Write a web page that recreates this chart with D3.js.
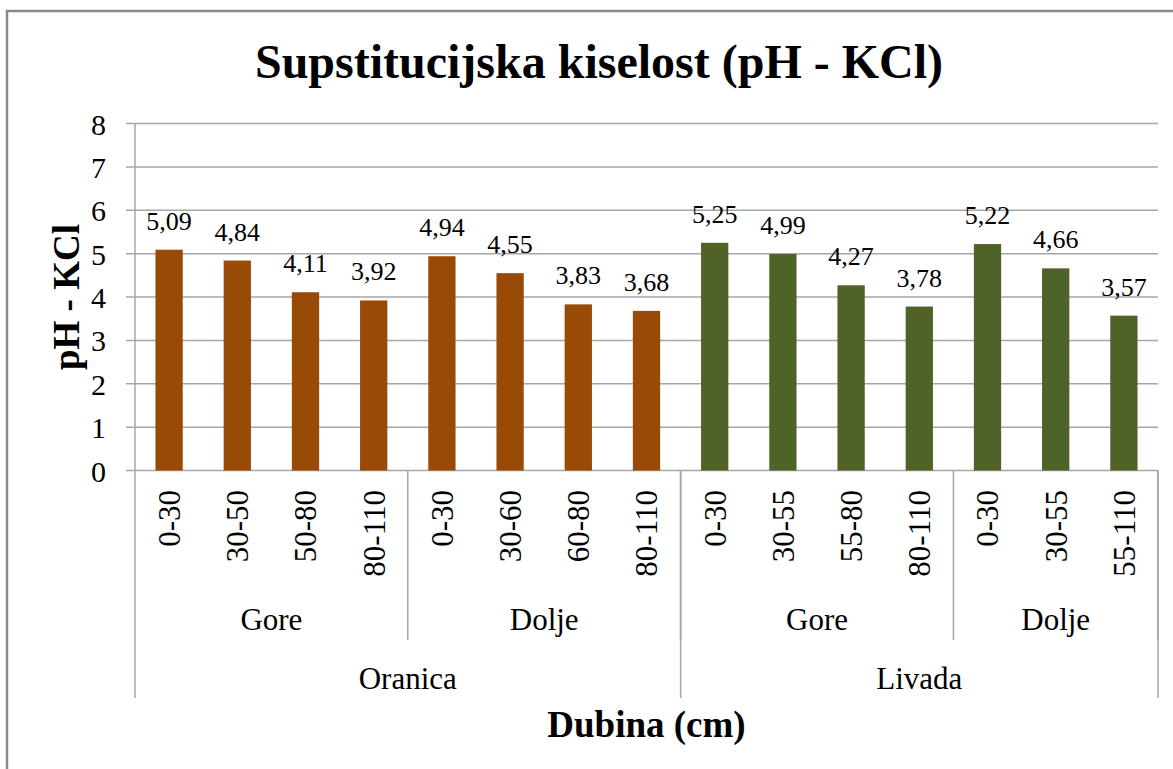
<!DOCTYPE html>
<html><head><meta charset="utf-8">
<script src="https://cdn.jsdelivr.net/npm/d3@7"></script>
</head>
<body style="margin:0;background:#fff"><svg id="c" width="1173" height="769" font-family="Liberation Serif"></svg>
<script>
const depths = ["0-30","30-50","50-80","80-110","0-30","30-60","60-80","80-110","0-30","30-55","55-80","80-110","0-30","30-55","55-110"];
const position = ["Gore","Gore","Gore","Gore","Dolje","Dolje","Dolje","Dolje","Gore","Gore","Gore","Gore","Dolje","Dolje","Dolje"];
const landUse = ["Oranica","Oranica","Oranica","Oranica","Oranica","Oranica","Oranica","Oranica","Livada","Livada","Livada","Livada","Livada","Livada","Livada"];
const values = [5.09,4.84,4.11,3.92,4.94,4.55,3.83,3.68,5.25,4.99,4.27,3.78,5.22,4.66,3.57];
const yTicks = [0,1,2,3,4,5,6,7,8];
const colors = {"Oranica":"#994A06","Livada":"#4F6228"};

const FONT = '"Liberation Serif"';
const svg = d3.select("#c");
const L = 135, R = 1158, T = 123.5, B = 470.5;
const idx = d3.range(values.length);
const x = d3.scaleBand().domain(idx).range([L,R]).paddingInner(0.6).paddingOuter(0.3);
const y = d3.scaleLinear().domain([0,8]).range([B,T]);
const step = x.step();
const GRID = "#a6a6a6";

function txt(sel, size, weight){
  return sel.attr("font-family","Liberation Serif").style("font-family",FONT)
    .attr("font-size",size).style("font-size",size+"px")
    .style("font-weight",weight||"normal").attr("fill","#000");
}

// outer border
svg.append("rect").attr("x",7).attr("y",11).attr("width",1200).attr("height",800)
  .attr("fill","none").attr("stroke","#8a8a8a").attr("stroke-width",2.5);

// gridlines
svg.append("g").selectAll("line").data(yTicks).join("line")
  .attr("x1",L-9).attr("x2",R).attr("y1",d=>y(d)).attr("y2",d=>y(d))
  .attr("stroke",GRID).attr("stroke-width",1.5);

// y axis
const yAxis = d3.axisLeft(y).tickValues(yTicks).tickSize(0).tickPadding(0);
const gy = svg.append("g").attr("transform",`translate(${L},0)`).call(yAxis);
gy.attr("font-family","Liberation Serif");
gy.select(".domain").remove();
txt(gy.selectAll("text").attr("x",-29).attr("dy","0.35em"), 30);
svg.append("line").attr("x1",L).attr("x2",L).attr("y1",T).attr("y2",698).attr("stroke",GRID).attr("stroke-width",1.5);

// bars
svg.append("g").selectAll("rect").data(idx).join("rect")
  .attr("x",i=>x(i)).attr("width",x.bandwidth())
  .attr("y",i=>y(values[i])).attr("height",i=>B-y(values[i]))
  .attr("fill",i=>colors[landUse[i]]);

// data labels
txt(svg.append("g").selectAll("text").data(idx).join("text")
  .attr("x",i=>x(i)+x.bandwidth()/2).attr("y",i=>y(values[i])-20)
  .attr("text-anchor","middle"), 26)
  .text(i=>values[i].toFixed(2).replace(".",","));

// category tick labels (rotated)
txt(svg.append("g").selectAll("text").data(idx).join("text")
  .attr("transform",i=>`translate(${x(i)+x.bandwidth()/2},490) rotate(-90)`)
  .attr("text-anchor","end").attr("dy","0.35em"), 31)
  .text(i=>depths[i]);

// group spans
function spans(keyFn){
  const out=[]; let start=0;
  for(let i=1;i<=values.length;i++){
    if(i===values.length || keyFn(i)!==keyFn(start)){out.push({s:start,e:i-1,label:keyFn(start).split("|").pop()});start=i;}
  }
  return out;
}
const lvl2 = spans(i=>landUse[i]+"|"+position[i]);
const lvl1 = spans(i=>landUse[i]);
const bx = i => L + i*step;

svg.append("g").selectAll("line").data(lvl2).join("line")
  .attr("x1",d=>bx(d.e+1)).attr("x2",d=>bx(d.e+1)).attr("y1",B).attr("y2",640)
  .attr("stroke",GRID).attr("stroke-width",1.5);
svg.append("g").selectAll("line").data(lvl1).join("line")
  .attr("x1",d=>bx(d.e+1)).attr("x2",d=>bx(d.e+1)).attr("y1",B).attr("y2",698)
  .attr("stroke",GRID).attr("stroke-width",1.5);

txt(svg.append("g").selectAll("text").data(lvl2).join("text")
  .attr("x",d=>(bx(d.s)+bx(d.e+1))/2).attr("y",630)
  .attr("text-anchor","middle"), 31).text(d=>d.label);
txt(svg.append("g").selectAll("text").data(lvl1).join("text")
  .attr("x",d=>(bx(d.s)+bx(d.e+1))/2).attr("y",689)
  .attr("text-anchor","middle"), 31).text(d=>d.label);

// titles
txt(svg.append("text").attr("x",599).attr("y",78).attr("text-anchor","middle"), 48, "bold")
  .text("Supstitucijska kiselost (pH - KCl)");
txt(svg.append("text").attr("transform",`translate(79,${(T+B)/2}) rotate(-90)`).attr("text-anchor","middle"), 37, "bold")
  .text("pH - KCl");
txt(svg.append("text").attr("x",(L+R)/2).attr("y",737).attr("text-anchor","middle"), 37, "bold")
  .text("Dubina (cm)");
</script></body></html>
